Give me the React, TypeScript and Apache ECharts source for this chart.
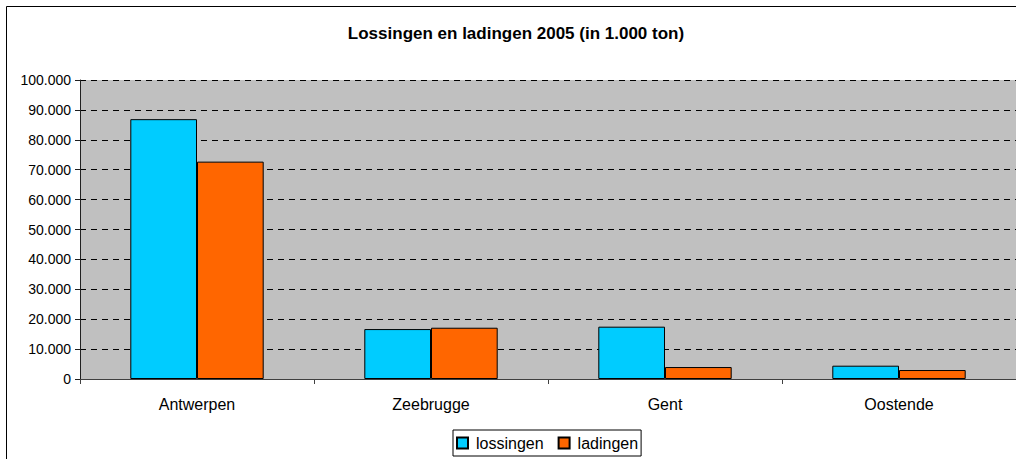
import React, { useEffect, useRef } from "react";
import * as echarts from "echarts";

const categories = ["Antwerpen", "Zeebrugge", "Gent", "Oostende"];
const lossingen = [86900, 16700, 17500, 4450];
const ladingen = [72700, 17150, 4000, 3000];
const seriesNames = ["lossingen", "ladingen"];
const titleText = "Lossingen en ladingen 2005 (in 1.000 ton)";

const fmt = (v: number) => {
  const s = Math.round(v).toString();
  return s.replace(/\B(?=(\d{3})+(?!\d))/g, ".");
};

export default function App() {
  const ref = useRef<HTMLDivElement>(null);
  useEffect(() => {
    if (!ref.current) return;
    const chart = echarts.init(ref.current, null, { renderer: "svg" });
    const font = "Liberation Sans, Arial, sans-serif";
    chart.setOption({
      animation: false,
      backgroundColor: "#ffffff",
      textStyle: { fontFamily: font },
      title: {
        text: titleText,
        left: 516,
        top: 25,
        textAlign: "center",
        padding: 0,
        textStyle: { fontSize: 17, fontWeight: "bold", color: "#000", fontFamily: font },
      },
      graphic: [
        {
          type: "rect",
          shape: { x: 6.5, y: 6.5, width: 1200, height: 600 },
          style: { fill: "none", stroke: "#000", lineWidth: 1 },
          silent: true,
          z: 100,
        },
      ],
      legend: {
        data: seriesNames,
        left: 453,
        top: 430,
        orient: "horizontal",
        itemWidth: 11,
        itemHeight: 11,
        itemGap: 14,
        padding: [5, 3, 5, 3],
        borderColor: "#000",
        borderWidth: 1,
        textStyle: { fontSize: 16, color: "#000", fontFamily: font, padding: [0, 0, 0, 3] },
        icon: "rect",
      },
      grid: { left: 80, right: 0, top: 80, bottom: 80, containLabel: false, show: true, backgroundColor: "#C0C0C0", borderWidth: 0 },
      xAxis: {
        type: "category",
        data: categories,
        axisLine: { lineStyle: { color: "#404040", width: 1 } },
        axisTick: { show: true, alignWithLabel: false, length: 5, lineStyle: { color: "#404040" } },
        axisLabel: { fontSize: 16, color: "#000", margin: 17, fontFamily: font },
      },
      yAxis: {
        type: "value",
        min: 0,
        max: 100000,
        interval: 10000,
        axisLine: { show: true, lineStyle: { color: "#202020", width: 1 } },
        axisTick: { show: true, length: 5, lineStyle: { color: "#202020" } },
        axisLabel: { fontSize: 14, color: "#000", margin: 9, formatter: (v: number) => fmt(v), fontFamily: font },
        splitLine: { show: true, lineStyle: { color: "#000", type: [6, 5], width: 1 } },
      },
      series: [
        {
          name: seriesNames[0],
          type: "bar",
          data: lossingen,
          barGap: "0%",
          barCategoryGap: "43%",
          itemStyle: { color: "#00CCFF", borderColor: "#000", borderWidth: 1 },
        },
        {
          name: seriesNames[1],
          type: "bar",
          data: ladingen,
          itemStyle: { color: "#FF6600", borderColor: "#000", borderWidth: 1 },
        },
      ],
    });
    return () => chart.dispose();
  }, []);
  return (
    <div
      ref={ref}
      style={{ position: "fixed", left: 0, top: 0, width: 1016, height: 459 }}
    />
  );
}
